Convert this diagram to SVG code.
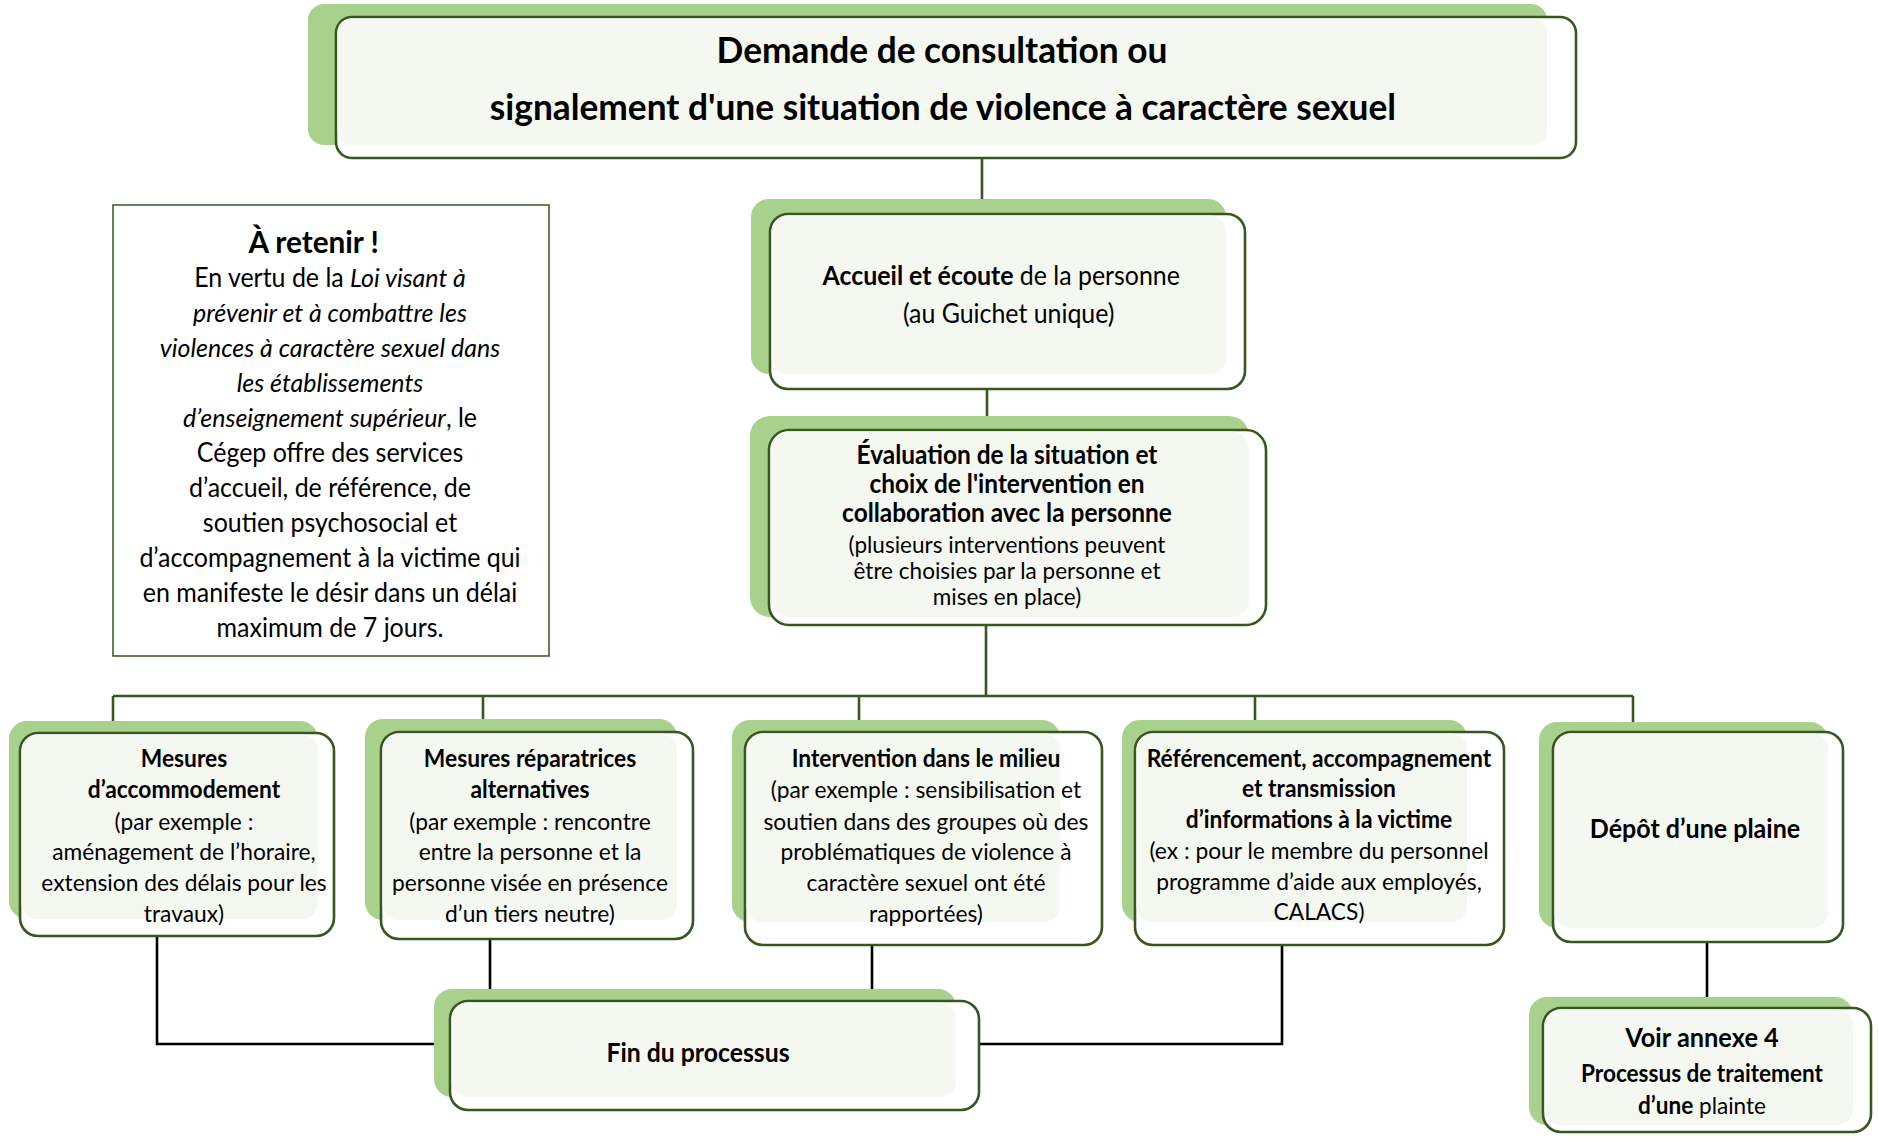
<svg xmlns="http://www.w3.org/2000/svg" width="1878" height="1140" viewBox="0 0 1878 1140">
<style>
.sh{fill:#a9d18e}
.bx{fill:#ffffff;stroke:#38571f;stroke-width:2.6}
.lf{fill:#f5f8f1}
.tree{fill:none;stroke:#38571f;stroke-width:2.6}
.blk{fill:none;stroke:#000000;stroke-width:2.6}
.info{fill:#ffffff;stroke:#38571f;stroke-width:1.5}
text{font-family:Lato,"Liberation Sans",sans-serif;fill:#000000;text-anchor:middle}
.b{font-weight:700}
.i{font-style:italic}
</style>
<rect width="1878" height="1140" fill="#ffffff"/>

<g id="connectors">
  <path class="tree" d="M982 158V214"/>
  <path class="tree" d="M987 389V430"/>
  <path class="tree" d="M986 625V696"/>
  <path class="tree" d="M113 696H1633"/>
  <path class="tree" d="M113 696V733"/>
  <path class="tree" d="M483 696V732"/>
  <path class="tree" d="M859 696V732"/>
  <path class="tree" d="M1255 696V732"/>
  <path class="tree" d="M1633 696V732"/>
  <path class="blk" d="M157 936V1044H450"/>
  <path class="blk" d="M490 939V1001"/>
  <path class="blk" d="M872 945V1001"/>
  <path class="blk" d="M1282 945V1044H979"/>
  <path class="blk" d="M1707 942V1008"/>
</g>

<g id="node-demande">
  <rect class="sh" x="308" y="4" width="1239" height="141" rx="16"/>
  <rect class="bx" x="336" y="17" width="1240" height="141" rx="16"/>
  <rect class="lf" x="337.5" y="18.5" width="1209.5" height="126.5" rx="14"/>
  <g transform="translate(942 0) scale(0.98 1) translate(-942 0)">
    <text class="b" x="942" y="63" font-size="36">Demande de consultation ou</text>
    <text class="b" x="943" y="120" font-size="36">signalement d'une situation de violence à caractère sexuel</text>
  </g>
</g>

<g id="node-retenir">
  <rect class="info" x="113" y="205" width="436" height="451"/>
  <g transform="translate(330 0) scale(0.96 1) translate(-330 0)">
    <text class="b" x="313" y="253" font-size="31">À retenir !</text>
    <g font-size="26">
      <text x="330" y="287">En vertu de la <tspan class="i">Loi visant à</tspan></text>
      <text class="i" x="330" y="322">prévenir et à combattre les</text>
      <text class="i" x="330" y="357">violences à caractère sexuel dans</text>
      <text class="i" x="330" y="392">les établissements</text>
      <text x="330" y="427"><tspan class="i">d’enseignement supérieur</tspan>, le</text>
      <text x="330" y="462">Cégep offre des services</text>
      <text x="330" y="497">d’accueil, de référence, de</text>
      <text x="330" y="532">soutien psychosocial et</text>
      <text x="330" y="567">d’accompagnement à la victime qui</text>
      <text x="330" y="602">en manifeste le désir dans un délai</text>
      <text x="330" y="637">maximum de 7 jours.</text>
    </g>
  </g>
</g>

<g id="node-accueil">
  <rect class="sh" x="751" y="199" width="475" height="175" rx="18"/>
  <rect class="bx" x="770" y="214" width="475" height="175" rx="18"/>
  <rect class="lf" x="771.5" y="215.5" width="454.5" height="158.5" rx="16"/>
  <g transform="translate(1004 0) scale(0.94 1) translate(-1004 0)">
    <text x="1001" y="285" font-size="26.5"><tspan class="b">Accueil et écoute</tspan> de la personne</text>
    <text x="1009" y="323" font-size="26.5">(au Guichet unique)</text>
  </g>
</g>

<g id="node-evaluation">
  <rect class="sh" x="750" y="416" width="499" height="201" rx="20"/>
  <rect class="bx" x="769" y="430" width="497" height="195" rx="20"/>
  <rect class="lf" x="770.5" y="431.5" width="478.5" height="185.5" rx="18"/>
  <g transform="translate(1007 0) scale(0.94 1) translate(-1007 0)">
    <text class="b" x="1007" y="464" font-size="26">Évaluation de la situation et</text>
    <text class="b" x="1007" y="493" font-size="26">choix de l'intervention en</text>
    <text class="b" x="1007" y="522" font-size="26">collaboration avec la personne</text>
  </g>
  <g transform="translate(1007 0) scale(0.96 1) translate(-1007 0)" font-size="23.5">
    <text x="1007" y="553">(plusieurs interventions peuvent</text>
    <text x="1007" y="579">être choisies par la personne et</text>
    <text x="1007" y="605">mises en place)</text>
  </g>
</g>

<g id="node-accommodement" font-size="24">
  <rect class="sh" x="9" y="721" width="309" height="198" rx="18"/>
  <rect class="bx" x="20" y="733" width="314" height="203" rx="18"/>
  <rect class="lf" x="21.5" y="734.5" width="296.5" height="184.5" rx="16"/>
  <g transform="translate(184 0) scale(0.95 1) translate(-184 0)">
    <text class="b" x="184" y="767">Mesures</text>
    <text class="b" x="184" y="798">d’accommodement</text>
    <text x="184" y="830">(par exemple :</text>
    <text x="184" y="860">aménagement de l’horaire,</text>
    <text x="184" y="891">extension des délais pour les</text>
    <text x="184" y="922">travaux)</text>
  </g>
</g>

<g id="node-reparatrices" font-size="24">
  <rect class="sh" x="365" y="719" width="312" height="201" rx="18"/>
  <rect class="bx" x="381" y="732" width="312" height="207" rx="18"/>
  <rect class="lf" x="382.5" y="733.5" width="294.5" height="186.5" rx="16"/>
  <g transform="translate(530 0) scale(0.95 1) translate(-530 0)">
    <text class="b" x="530" y="767">Mesures réparatrices</text>
    <text class="b" x="530" y="798">alternatives</text>
    <text x="530" y="830">(par exemple : rencontre</text>
    <text x="530" y="860">entre la personne et la</text>
    <text x="530" y="891">personne visée en présence</text>
    <text x="530" y="922">d’un tiers neutre)</text>
  </g>
</g>

<g id="node-intervention" font-size="24">
  <rect class="sh" x="732" y="720" width="328" height="202" rx="18"/>
  <rect class="bx" x="745" y="732" width="357" height="213" rx="18"/>
  <rect class="lf" x="746.5" y="733.5" width="313.5" height="188.5" rx="16"/>
  <g transform="translate(926 0) scale(0.95 1) translate(-926 0)">
    <text class="b" x="926" y="767">Intervention dans le milieu</text>
    <text x="926" y="798">(par exemple : sensibilisation et</text>
    <text x="926" y="830">soutien dans des groupes où des</text>
    <text x="926" y="860">problématiques de violence à</text>
    <text x="926" y="891">caractère sexuel ont été</text>
    <text x="926" y="922">rapportées)</text>
  </g>
</g>

<g id="node-referencement" font-size="24">
  <rect class="sh" x="1122" y="720" width="345" height="202" rx="18"/>
  <rect class="bx" x="1135" y="732" width="369" height="213" rx="18"/>
  <rect class="lf" x="1136.5" y="733.5" width="330.5" height="188.5" rx="16"/>
  <g transform="translate(1319 0) scale(0.95 1) translate(-1319 0)">
    <text class="b" x="1319" y="767">Référencement, accompagnement</text>
    <text class="b" x="1319" y="797">et transmission</text>
    <text class="b" x="1319" y="828">d’informations à la victime</text>
    <text x="1319" y="859">(ex : pour le membre du personnel</text>
    <text x="1319" y="890">programme d’aide aux employés,</text>
    <text x="1319" y="920">CALACS)</text>
  </g>
</g>

<g id="node-depot">
  <rect class="sh" x="1539" y="722" width="289" height="206" rx="18"/>
  <rect class="bx" x="1553" y="732" width="290" height="210" rx="18"/>
  <rect class="lf" x="1554.5" y="733.5" width="273.5" height="194.5" rx="16"/>
  <g transform="translate(1695 0) scale(0.945 1) translate(-1695 0)">
    <text class="b" x="1695" y="838" font-size="26.5">Dépôt d’une plaine</text>
  </g>
</g>

<g id="node-fin">
  <rect class="sh" x="434" y="989" width="522" height="108" rx="18"/>
  <rect class="bx" x="450" y="1001" width="529" height="109" rx="18"/>
  <rect class="lf" x="451.5" y="1002.5" width="504.5" height="94.5" rx="16"/>
  <g transform="translate(698 0) scale(0.935 1) translate(-698 0)">
    <text class="b" x="698" y="1062" font-size="26.5">Fin du processus</text>
  </g>
</g>

<g id="node-annexe">
  <rect class="sh" x="1529" y="997" width="324" height="128" rx="18"/>
  <rect class="bx" x="1543" y="1008" width="328" height="124" rx="18"/>
  <rect class="lf" x="1544.5" y="1009.5" width="308.5" height="115.5" rx="16"/>
  <g transform="translate(1702 0) scale(0.94 1) translate(-1702 0)">
    <text class="b" x="1702" y="1047" font-size="27">Voir annexe 4</text>
    <text class="b" x="1702" y="1082" font-size="24">Processus de traitement</text>
    <text x="1702" y="1114" font-size="24"><tspan class="b">d’une</tspan> plainte</text>
  </g>
</g>
</svg>
